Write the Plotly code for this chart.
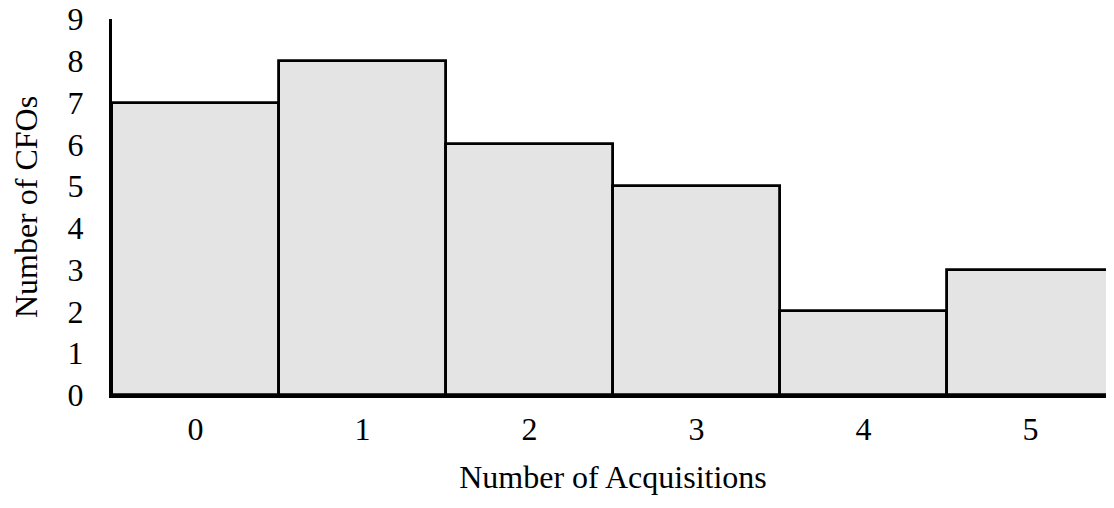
import plotly.graph_objects as go

categories = ["0", "1", "2", "3", "4", "5"]
counts = [7, 8, 6, 5, 2, 3]
y_ticks = list(range(0, 10))

font = "Liberation Serif, Times New Roman, serif"

fig = go.Figure(go.Bar(
    x=categories, y=counts,
    marker=dict(color="#e4e4e4", line=dict(color="black", width=2.8)),
    width=1.0,
))
# page body has an 8px margin, so the figure is offset by 8px
fig.update_layout(
    width=1106, height=500,
    margin=dict(l=104, r=0, t=11, b=113),
    plot_bgcolor="white", paper_bgcolor="white",
    bargap=0, showlegend=False,
    font=dict(family=font, size=32, color="black"),
)
fig.update_xaxes(
    type="category", range=[-0.5, 5.5], automargin=False,
    showline=True, linecolor="black", linewidth=3,
    showgrid=False, ticks="", ticklabelstandoff=4,
    title=dict(text="Number of Acquisitions", standoff=20, font=dict(size=32)),
    tickfont=dict(size=32),
)
fig.update_yaxes(
    range=[0, 9], tickvals=y_ticks, automargin=False,
    showline=True, linecolor="black", linewidth=3,
    showgrid=False, ticks="", ticklabelstandoff=19, zeroline=False,
    ticklabeloverflow="allow",
    title=dict(text="Number of CFOs", standoff=36, font=dict(size=32)),
    tickfont=dict(size=32),
)
fig.write_html("out.html")
